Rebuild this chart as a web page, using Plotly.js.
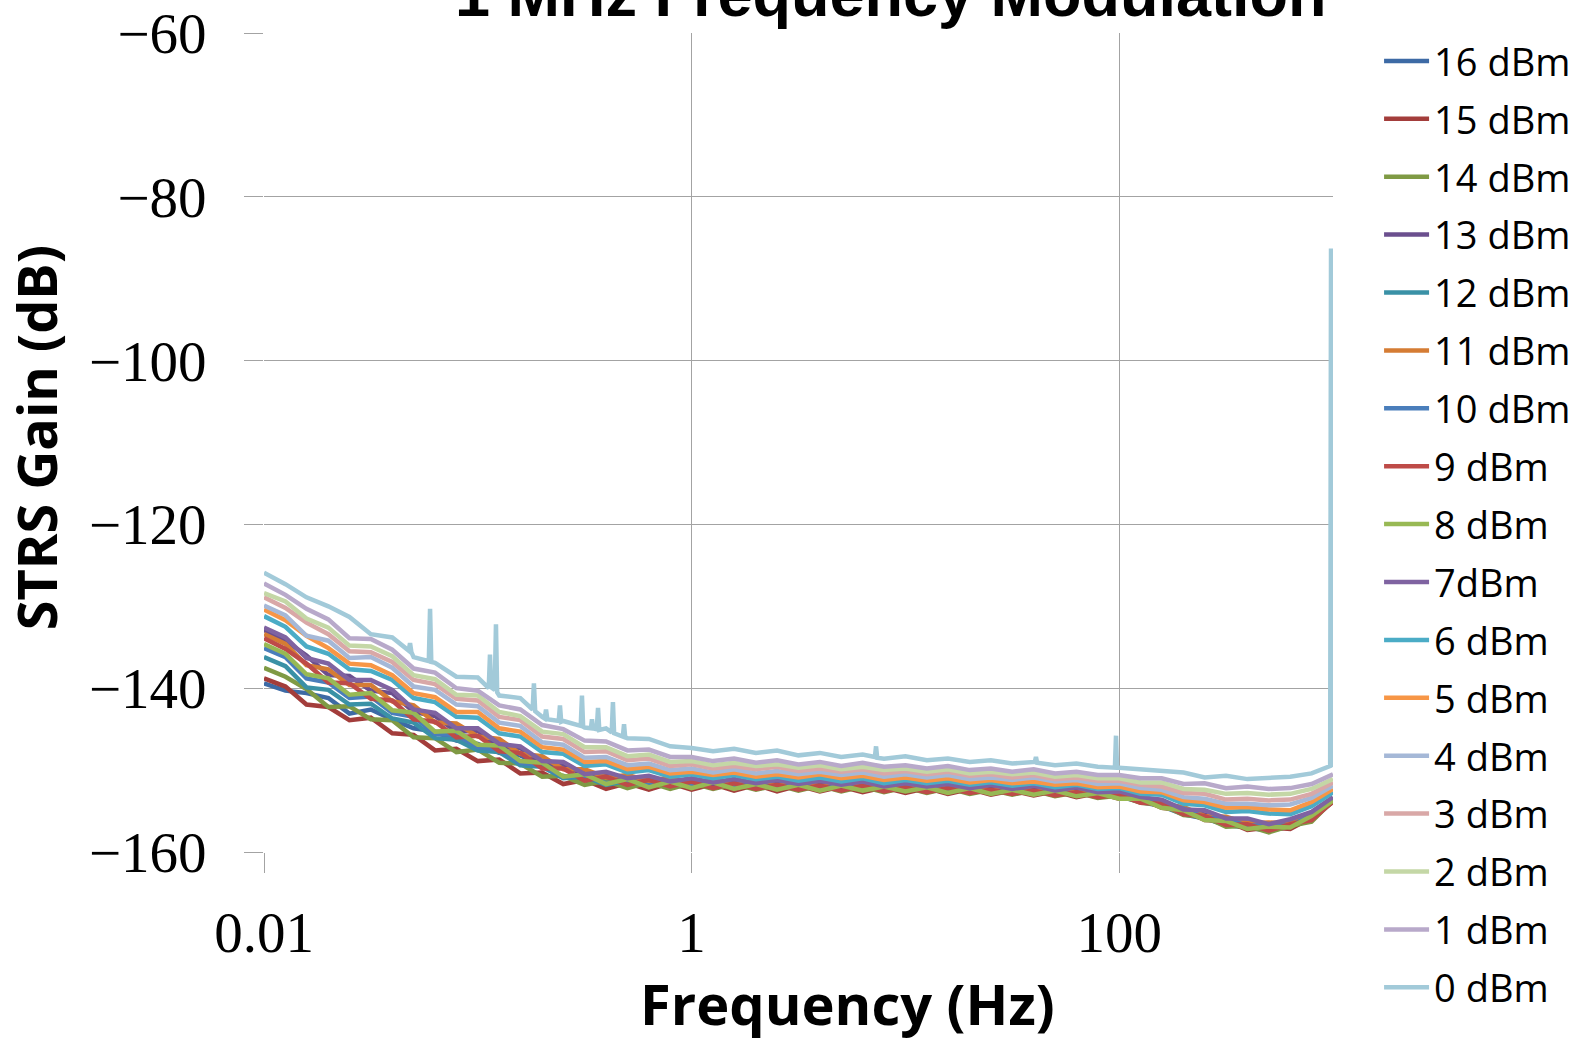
<!DOCTYPE html>
<html>
<head>
<meta charset="utf-8">
<script src="https://cdn.plot.ly/plotly-3.0.1.min.js"></script>
<style>html,body{margin:0;padding:0;background:#fff;}#chart{width:1572px;height:1038px;}</style>
</head>
<body>
<div id="chart"></div>
<script>
// Frequency grid (Hz) shared by the 1..16 dBm series
const freq = [0.01, 0.0126, 0.0158, 0.02, 0.0251, 0.0316, 0.0398, 0.0501, 0.0631, 0.0794,
  0.1, 0.126, 0.158, 0.2, 0.251, 0.316, 0.398, 0.501, 0.631, 0.794,
  1, 1.26, 1.58, 2, 2.51, 3.16, 3.98, 5.01, 6.31, 7.94,
  10, 12.6, 15.8, 20, 25.1, 31.6, 39.8, 50.1, 63.1, 79.4,
  100, 126, 158, 200, 251, 316, 398, 501, 631, 794, 1000];

const gain16 = [-139.4,-140.3,-140.6,-141.2,-143.1,-142.6,-143.8,-144.9,-145.3,-146.4,
  -146.8,-147.9,-148.2,-149.4,-149.5,-150.4,-150.5,-151.2,-151.1,-151.8,
  -151.4,-151.9,-151.6,-152.1,-151.9,-152.2,-152.0,-152.4,-152.1,-152.3,
  -152.2,-152.6,-152.3,-152.7,-152.5,-152.8,-152.6,-152.9,-152.8,-153.1,
  -153.2,-153.9,-154.4,-155.4,-155.9,-156.7,-157.0,-157.4,-156.9,-156.1,-153.8];
const gain15 = [-138.8,-139.8,-142.0,-142.3,-143.9,-143.6,-145.5,-145.7,-147.6,-147.4,
  -148.9,-148.7,-150.4,-150.3,-151.7,-151.2,-152.3,-151.6,-152.4,-151.6,
  -152.4,-151.7,-152.5,-151.8,-152.6,-151.9,-152.6,-152.0,-152.7,-152.1,
  -152.8,-152.2,-152.9,-152.3,-153.0,-152.5,-153.1,-152.6,-153.3,-152.8,
  -153.5,-153.5,-154.6,-154.9,-156.1,-156.2,-157.3,-157.0,-157.2,-155.8,-153.9];
const gain14 = [-137.5,-138.6,-140.1,-142.3,-142.2,-143.8,-143.9,-146.0,-146.1,-147.8,
  -147.5,-149.1,-149.2,-150.8,-150.7,-151.8,-151.3,-152.2,-151.5,-152.3,
  -151.6,-152.3,-151.7,-152.4,-151.8,-152.5,-151.9,-152.6,-152.0,-152.7,
  -152.1,-152.8,-152.2,-152.9,-152.4,-153.0,-152.5,-153.2,-152.7,-153.4,
  -153.1,-154.0,-154.2,-155.5,-155.7,-156.9,-156.8,-157.6,-156.8,-156.3,-153.7];
const gain13 = [-132.9,-134.2,-136.0,-138.4,-138.5,-140.3,-140.6,-142.9,-143.4,-145.3,
  -145.2,-147.2,-147.3,-149.2,-149.2,-150.7,-150.4,-151.4,-150.8,-151.6,
  -151.3,-151.8,-151.4,-151.9,-151.5,-152.0,-151.6,-152.2,-151.8,-152.3,
  -151.9,-152.4,-152.0,-152.6,-152.2,-152.7,-152.3,-152.8,-152.5,-153.0,
  -152.8,-153.7,-153.9,-155.1,-155.4,-156.4,-156.4,-157.1,-156.4,-155.9,-153.6];
const gain12 = [-136.2,-137.3,-139.9,-140.2,-142.0,-141.9,-143.7,-144.2,-146.1,-146.3,
  -147.6,-147.8,-149.4,-149.6,-151.0,-150.8,-151.8,-151.3,-151.9,-151.4,
  -151.9,-151.5,-152.1,-151.6,-152.1,-151.7,-152.2,-151.8,-152.4,-152.0,
  -152.4,-152.0,-152.5,-152.1,-152.7,-152.2,-152.8,-152.4,-152.9,-152.6,
  -153.2,-153.3,-154.4,-154.7,-155.8,-155.9,-156.7,-156.6,-156.7,-155.5,-153.6];
const gain11 = [-133.4,-134.6,-137.2,-137.7,-139.6,-139.6,-141.6,-142.1,-144.2,-144.3,
  -145.9,-146.2,-148.0,-148.3,-149.9,-149.9,-150.9,-150.6,-151.3,-150.9,
  -151.6,-151.2,-151.8,-151.3,-151.9,-151.4,-152.0,-151.6,-152.1,-151.7,
  -152.2,-151.8,-152.3,-151.9,-152.5,-152.0,-152.6,-152.2,-152.8,-152.5,
  -153.1,-153.1,-154.2,-154.5,-155.6,-155.7,-156.5,-156.4,-156.5,-155.3,-153.4];
const gain10 = [-135.1,-136.2,-138.8,-139.3,-141.2,-141.0,-143.0,-143.5,-145.6,-145.7,
  -147.2,-147.5,-149.1,-149.4,-150.8,-150.7,-151.6,-151.2,-151.9,-151.4,
  -152.0,-151.5,-152.1,-151.6,-152.2,-151.7,-152.3,-151.8,-152.4,-152.0,
  -152.5,-152.1,-152.6,-152.2,-152.8,-152.3,-152.9,-152.5,-153.1,-152.7,
  -153.3,-153.3,-154.4,-154.7,-155.8,-156.0,-156.8,-156.7,-156.8,-155.5,-153.6];
const gain9 = [-133.9,-135.2,-137.0,-139.3,-139.4,-141.3,-141.5,-143.8,-144.1,-146.0,
  -145.8,-147.7,-147.9,-149.8,-149.8,-151.3,-150.8,-151.8,-151.2,-152.0,
  -151.4,-152.2,-151.6,-152.3,-151.8,-152.4,-151.9,-152.5,-151.9,-152.6,
  -152.1,-152.7,-152.2,-152.8,-152.4,-152.9,-152.5,-153.1,-152.7,-153.3,
  -153.0,-154.0,-154.1,-155.4,-155.6,-156.7,-156.6,-157.4,-156.6,-156.1,-153.8];
const gain8 = [-134.6,-135.8,-138.3,-138.8,-140.8,-140.6,-142.7,-143.0,-145.3,-145.2,
  -146.9,-147.0,-148.9,-149.1,-150.8,-150.5,-151.7,-151.1,-152.1,-151.4,
  -152.2,-151.5,-152.3,-151.7,-152.4,-151.8,-152.5,-151.9,-152.5,-152.0,
  -152.6,-152.1,-152.8,-152.2,-152.9,-152.4,-153.0,-152.5,-153.2,-152.8,
  -153.5,-153.5,-154.6,-154.9,-156.1,-156.2,-157.2,-156.9,-157.0,-155.6,-153.7];
const gain7 = [-132.6,-133.8,-136.3,-137.0,-139.0,-139.0,-140.2,-142.6,-143.0,-144.9,
  -144.9,-146.8,-147.1,-148.9,-149.0,-150.5,-150.2,-151.0,-150.7,-151.4,
  -151.0,-151.5,-151.1,-151.6,-151.2,-151.7,-151.3,-151.8,-151.4,-152.0,
  -151.6,-152.0,-151.7,-152.2,-151.8,-152.3,-151.9,-152.5,-152.1,-152.7,
  -152.6,-153.3,-153.6,-154.8,-154.9,-155.9,-155.9,-156.6,-156.0,-155.1,-153.3];
const gain6 = [-131.2,-132.5,-134.9,-135.8,-137.7,-137.9,-139.0,-141.2,-141.7,-143.5,
  -143.6,-145.5,-145.9,-147.8,-148.0,-149.5,-149.3,-150.3,-150.0,-150.8,
  -150.5,-151.0,-150.6,-151.1,-150.8,-151.3,-150.9,-151.4,-151.0,-151.6,
  -151.2,-151.6,-151.3,-151.8,-151.5,-151.9,-151.6,-152.1,-151.8,-152.3,
  -152.2,-152.9,-153.0,-154.1,-154.3,-155.1,-155.0,-155.3,-155.4,-154.4,-152.7];
const gain5 = [-130.4,-131.7,-133.6,-135.1,-137.0,-137.2,-138.4,-140.6,-141.1,-142.9,
  -142.9,-144.9,-145.3,-147.2,-147.5,-149.0,-148.9,-149.9,-149.6,-150.4,
  -150.2,-150.6,-150.3,-150.8,-150.5,-150.9,-150.5,-151.0,-150.7,-151.2,
  -150.9,-151.3,-151.0,-151.5,-151.2,-151.6,-151.4,-151.8,-151.6,-152.1,
  -152.0,-152.6,-152.7,-153.7,-153.9,-154.6,-154.5,-154.8,-154.9,-153.9,-152.3];
const gain4 = [-129.9,-131.1,-133.6,-134.2,-136.3,-136.2,-137.5,-139.8,-140.2,-142.0,
  -142.2,-144.2,-144.6,-146.6,-146.9,-148.5,-148.4,-149.4,-149.2,-150.0,
  -149.8,-150.3,-149.9,-150.4,-150.1,-150.5,-150.2,-150.6,-150.3,-150.8,
  -150.5,-150.9,-150.6,-151.1,-150.9,-151.2,-150.9,-151.4,-151.2,-151.7,
  -151.6,-152.2,-152.4,-153.3,-153.5,-154.1,-154.1,-154.3,-154.2,-153.4,-151.9];
const gain3 = [-128.9,-130.2,-132.0,-133.4,-135.5,-135.6,-136.8,-139.0,-139.5,-141.3,
  -141.5,-143.5,-143.9,-145.9,-146.2,-147.8,-147.7,-148.8,-148.6,-149.5,
  -149.3,-149.8,-149.5,-149.9,-149.6,-150.1,-149.8,-150.2,-149.9,-150.4,
  -150.1,-150.5,-150.2,-150.7,-150.5,-150.9,-150.6,-151.1,-150.9,-151.3,
  -151.3,-151.8,-152.0,-152.8,-152.9,-153.6,-153.5,-153.7,-153.6,-152.9,-151.5];
const gain2 = [-128.4,-129.4,-131.5,-132.6,-134.8,-134.9,-136.1,-138.4,-138.9,-140.8,
  -140.9,-142.9,-143.4,-145.3,-145.6,-147.2,-147.2,-148.3,-148.1,-149.0,
  -148.9,-149.4,-149.1,-149.5,-149.3,-149.7,-149.4,-149.9,-149.6,-150.0,
  -149.8,-150.2,-149.9,-150.4,-150.2,-150.5,-150.3,-150.8,-150.6,-151.0,
  -151.0,-151.5,-151.5,-152.3,-152.4,-152.9,-152.8,-153.0,-152.9,-152.3,-151.1];
const gain1 = [-127.2,-128.6,-130.3,-131.6,-133.9,-134.0,-135.3,-137.6,-138.1,-140.0,
  -140.3,-142.1,-142.6,-144.5,-145.0,-146.4,-146.5,-147.6,-147.5,-148.4,
  -148.4,-148.9,-148.6,-149.1,-148.8,-149.3,-149.0,-149.5,-149.1,-149.6,
  -149.4,-149.8,-149.5,-150.0,-149.8,-150.2,-149.9,-150.4,-150.2,-150.6,
  -150.6,-151.0,-151.0,-151.7,-151.6,-152.2,-152.0,-152.3,-152.2,-151.7,-150.5];

// 0 dBm series has its own frequency list (it carries the narrow spurs)
const freq0 = [0.01,0.0126,0.0158,0.02,0.0251,0.0316,0.0398,0.0475,0.0482,0.0489,
  0.0501,0.059,0.0598,0.0606,0.0631,0.0794,0.1,0.1125,0.114,0.1155,
  0.12,0.1216,0.1232,0.126,0.158,0.1805,0.183,0.1855,0.2,0.2055,
  0.2085,0.2115,0.239,0.2423,0.2455,0.251,0.303,0.307,0.311,0.316,
  0.338,0.342,0.346,0.36,0.365,0.37,0.398,0.423,0.4286,0.434,
  0.477,0.483,0.489,0.501,0.631,0.794,1,1.26,1.58,2,
  2.51,3.16,3.98,5.01,6.31,7.2,7.29,7.38,7.94,10,
  12.6,15.8,20,25.1,31.6,39.8,40.3,40.8,41.3,50.1,
  63.1,79.4,95.5,96.6,97.7,100,126,158,200,251,
  316,398,501,631,794,970,979,988,1000];
const gain0 = [-125.9,-127.3,-128.9,-130.0,-131.3,-133.4,-133.8,-135.4,-134.5,-135.6,
  -136.2,-136.7,-130.3,-136.8,-136.9,-138.6,-138.7,-140.0,-135.9,-139.9,
  -140.2,-132.2,-140.5,-140.9,-141.2,-142.6,-139.4,-142.8,-143.5,-143.7,
  -142.6,-143.8,-144.0,-142.1,-144.1,-144.0,-144.6,-140.9,-144.7,-144.8,
  -144.9,-143.8,-144.9,-145.0,-142.4,-145.1,-144.9,-145.4,-141.7,-145.5,
  -145.9,-144.4,-146.0,-146.1,-146.2,-147.1,-147.3,-147.7,-147.4,-147.9,
  -147.6,-148.2,-147.9,-148.4,-148.1,-148.4,-147.1,-148.5,-148.6,-148.3,
  -148.8,-148.6,-149.0,-148.8,-149.2,-148.9,-149.0,-148.4,-149.1,-149.4,
  -149.2,-149.6,-149.7,-145.8,-149.7,-149.7,-149.9,-150.0,-150.3,-150.9,
  -150.7,-151.1,-150.9,-150.8,-150.4,-149.5,-86.3,-149.4,-149.3];

const seriesNames = ['16 dBm','15 dBm','14 dBm','13 dBm','12 dBm','11 dBm','10 dBm','9 dBm',
  '8 dBm','7dBm','6 dBm','5 dBm','4 dBm','3 dBm','2 dBm','1 dBm','0 dBm'];
const seriesX = [freq,freq,freq,freq,freq,freq,freq,freq,freq,freq,freq,freq,freq,freq,freq,freq,freq0];
const seriesY = [gain16,gain15,gain14,gain13,gain12,gain11,gain10,gain9,gain8,gain7,gain6,gain5,gain4,gain3,gain2,gain1,gain0];
const colors = ['#3D6AA5','#A33D3B','#7F9A44','#6B4F8E','#3A91A6','#D57C34','#4A7EBB','#BE4B48',
  '#98B954','#7F63A1','#4BACC6','#F79646','#A5B8D7','#D9A8A7','#C4D7A6','#B8A9CA','#A2CAD9'];

const xTickVals = [0.01, 1, 100];
const xTickText = ['0.01', '1', '100'];

const traces = seriesNames.map((n, i) => ({
  x: seriesX[i], y: seriesY[i], name: n, legendgroup: n,
  type: 'scatter', mode: 'lines',
  line: {color: colors[i], width: 4.5}
}));

const serif = 'Liberation Serif, Times New Roman, serif';
const grid = '#a3a3a3';

const layout = {
  width: 1572, height: 1038,
  margin: {l: 264, r: 239, t: 33, b: 186, pad: 0, autoexpand: false},
  paper_bgcolor: '#fff', plot_bgcolor: '#fff',
  showlegend: true,
  legend: {
    x: 1.0431, xanchor: 'left', y: 1.004, yanchor: 'top',
    maxheight: 1030,
    font: {family: 'Open Sans, sans-serif', size: 38, color: '#000'},
    traceorder: 'grouped', tracegroupgap: 5.5, itemwidth: 45,
    bgcolor: 'rgba(0,0,0,0)', borderwidth: 0
  },
  xaxis: {
    type: 'log', range: [-2, 3], tickmode: 'array',
    tickvals: xTickVals, ticktext: xTickText,
    showgrid: true, gridcolor: grid, gridwidth: 1,
    ticks: 'outside', ticklen: 20, tickcolor: grid, tickwidth: 1,
    ticklabelstandoff: 11,
    tickfont: {family: serif, size: 57, color: '#000'},
    zeroline: false, showline: false, automargin: false
  },
  yaxis: {
    range: [-160, -60], tickmode: 'linear', tick0: -160, dtick: 20,
    showgrid: true, gridcolor: grid, gridwidth: 1,
    ticks: 'outside', ticklen: 19, tickcolor: grid, tickwidth: 1,
    ticklabelstandoff: 26,
    tickfont: {family: serif, size: 57, color: '#000'},
    zeroline: false, showline: false, automargin: false
  },
  annotations: [
    {text: '<b>1 MHz Frequency Modulation</b>', xref: 'paper', yref: 'paper',
     x: 0.5865, y: 1.048, xanchor: 'center', yanchor: 'middle', showarrow: false,
     font: {family: 'Liberation Sans, Arial, sans-serif', size: 63, color: '#000'}},
    {text: '<b>Frequency (Hz)</b>', xref: 'paper', yref: 'paper',
     x: 0.5454, y: -0.1845, xanchor: 'center', yanchor: 'middle', showarrow: false,
     font: {family: 'Open Sans, sans-serif', size: 56, color: '#000'}},
    {text: '<b>STRS Gain (dB)</b>', xref: 'paper', yref: 'paper', textangle: -90,
     x: -0.2135, y: 0.5061, xanchor: 'center', yanchor: 'middle', showarrow: false,
     font: {family: 'Open Sans, sans-serif', size: 54, color: '#000'}}
  ]
};

Plotly.newPlot('chart', traces, layout, {displayModeBar: false, staticPlot: true});
</script>
</body>
</html>
